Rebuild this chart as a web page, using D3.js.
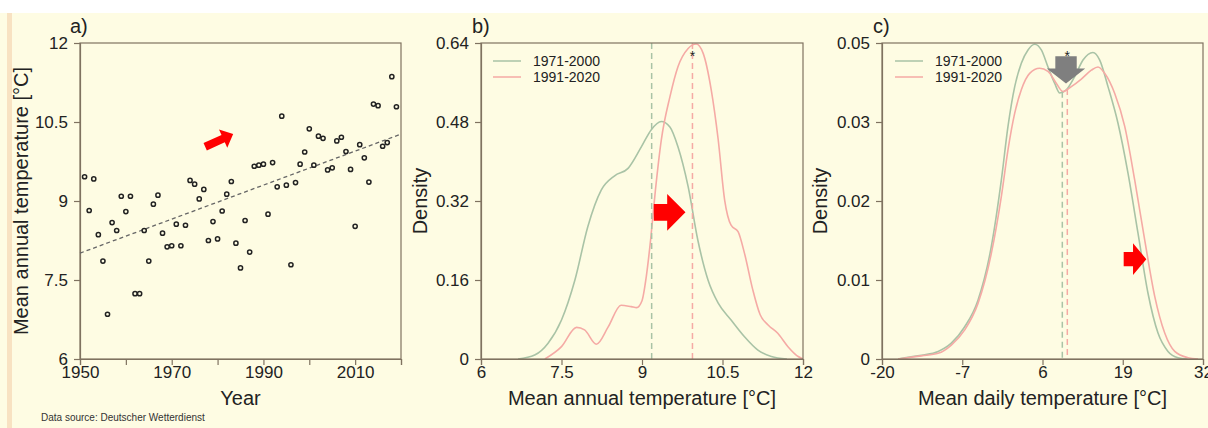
<!DOCTYPE html>
<html>
<head>
<meta charset="utf-8">
<script src="https://cdn.jsdelivr.net/npm/d3@7"></script>
<style>
  body { margin: 0; background: #fff; }
  svg { display: block; font-family: "Liberation Sans", Arial, sans-serif; }
  .axis path, .axis line { stroke: #7f7260; stroke-width: 1.2; }
  .axis text { fill: #222; font-size: 17px; }
</style>
</head>
<body>
<svg width="1208" height="428"></svg>
<script>
// ---- data ----
var years = [1951,1952,1953,1954,1955,1956,1957,1958,1959,1960,1961,1962,1963,1964,1965,1966,1967,1968,1969,1970,
  1971,1972,1973,1974,1975,1976,1977,1978,1979,1980,1981,1982,1983,1984,1985,1986,1987,1988,1989,1990,
  1991,1992,1993,1994,1995,1996,1997,1998,1999,2000,2001,2002,2003,2004,2005,2006,2007,2008,2009,2010,
  2011,2012,2013,2014,2015,2016,2017,2018,2019];
var annualTemps = [9.46,8.82,9.42,8.36,7.86,6.85,8.59,8.44,9.09,8.80,9.09,7.24,7.24,8.44,7.86,8.94,9.11,8.39,8.13,8.15,
  8.56,8.15,8.54,9.39,9.32,9.04,9.22,8.25,8.61,8.28,8.81,9.13,9.37,8.20,7.73,8.63,8.03,9.66,9.68,9.70,
  8.75,9.73,9.27,10.61,9.30,7.79,9.35,9.70,9.93,10.37,9.68,10.23,10.19,9.59,9.63,10.14,10.21,9.94,9.60,8.52,
  10.07,9.82,9.36,10.84,10.81,10.04,10.11,11.36,10.79];
var trendYears = [1950, 2020];
var trendTemps = [8.01, 10.27];

var seriesNames = ["1971-2000", "1991-2020"];

// density of mean annual temperature, [temp, density]
var annualDens7100 = [[6.69,0],[7.0,0.008],[7.25,0.032],[7.5,0.079],[7.75,0.16],[7.99,0.268],[8.24,0.342],
  [8.49,0.371],[8.74,0.386],[8.99,0.43],[9.17,0.464],[9.36,0.481],[9.52,0.47],[9.67,0.43],[9.86,0.349],
  [10.04,0.241],[10.23,0.16],[10.42,0.113],[10.66,0.079],[10.91,0.045],[11.16,0.018],[11.41,0.005],[11.7,0]];
var annualDens9120 = [[7.19,0],[7.5,0.025],[7.78,0.064],[7.93,0.059],[8.15,0.03],[8.37,0.065],[8.61,0.109],
  [8.8,0.106],[8.9,0.104],[9.0,0.118],[9.08,0.167],[9.16,0.241],[9.25,0.342],[9.36,0.444],[9.52,0.531],
  [9.67,0.592],[9.86,0.629],[10.01,0.638],[10.14,0.619],[10.29,0.545],[10.42,0.444],[10.54,0.322],
  [10.66,0.271],[10.79,0.258],[10.91,0.214],[11.06,0.142],[11.2,0.09],[11.35,0.069],[11.53,0.052],
  [11.72,0.025],[11.91,0.005],[12.0,0]];
var annualMeans = [9.18, 9.94];

// density of mean daily temperature, [temp, density]
var dailyDens7100 = [[-17.4,0],[-16.3,0.0002],[-13.6,0.0006],[-10.9,0.0012],[-8.77,0.0025],[-6.6,0.0051],
  [-4.45,0.0093],[-2.29,0.0178],[-0.67,0.0283],[0.41,0.0368],[1.5,0.0431],[2.57,0.0468],[3.65,0.0489],
  [4.74,0.0498],[5.81,0.0489],[6.89,0.0462],[7.98,0.0436],[8.79,0.0421],[9.86,0.0426],[11.22,0.0447],
  [12.56,0.0473],[14.18,0.0485],[15.27,0.0473],[16.61,0.0431],[18.23,0.0373],[19.85,0.0294],[21.47,0.0199],
  [23.09,0.0104],[24.71,0.0041],[26.33,0.0012],[27.95,0.0002],[29.5,0]];
var dailyDens9120 = [[-17.4,0],[-13.6,0.0005],[-10.9,0.0009],[-8.77,0.0022],[-6.6,0.0046],[-4.45,0.0088],
  [-2.29,0.0167],[-0.67,0.0257],[0.41,0.0331],[1.5,0.0389],[2.57,0.0426],[3.92,0.0452],[5.54,0.046],
  [6.89,0.0455],[8.25,0.0436],[9.32,0.0423],[10.67,0.0431],[12.29,0.0443],[13.91,0.0457],[14.99,0.0462],
  [16.07,0.0452],[17.7,0.042],[19.32,0.0368],[20.94,0.0283],[22.56,0.0188],[24.18,0.0099],[25.8,0.0041],
  [27.42,0.0012],[29.57,0.0002],[31.2,0]];
var dailyMeans = [9.21, 10.02];

// axis ticks
var yearTicks = [1950,1960,1970,1980,1990,2000,2010,2020];
var yearTickLabels = ["1950","","1970","","1990","","2010",""];
var annualTicks = [6,7.5,9,10.5,12];
var annualTickLabels = ["6","7.5","9","10.5","12"];
var annualDensTicks = [0,0.16,0.32,0.48,0.64];
var annualDensTickLabels = ["0","0.16","0.32","0.48","0.64"];
var dailyTicks = [-20,-7,6,19,32];
var dailyTickLabels = ["-20","-7","6","19","32"];
var dailyDensTicks = [0,0.0125,0.025,0.0375,0.05];
var dailyDensTickLabels = ["0","0.01","0.02","0.03","0.05"];

(function() {
  var svg = d3.select("svg");
  var plotTop = 43, plotBottom = 359;
  var axisColor = "#7f7260";
  var colors = ["#a9c3a6", "#f5aaa5"];

  svg.append("rect").attr("x", 0).attr("y", 13).attr("width", 1208).attr("height", 415).attr("fill", "#fefce3");
  svg.append("rect").attr("x", 7).attr("y", 13).attr("width", 5).attr("height", 415).attr("fill", "#f8e2c2");

  function makePanel(left, right, xDomain, yDomain) {
    return {
      g: svg.append("g"),
      x: d3.scaleLinear().domain(xDomain).range([left, right]),
      y: d3.scaleLinear().domain(yDomain).range([plotBottom, plotTop]),
      left: left, right: right
    };
  }

  function drawAxes(p, xTicks, xLabels, yTicks, yLabels) {
    p.g.append("rect")
      .attr("x", p.left).attr("y", plotTop)
      .attr("width", p.right - p.left).attr("height", plotBottom - plotTop)
      .attr("fill", "none").attr("stroke", axisColor).attr("stroke-width", 1.2);
    p.g.append("g").attr("class", "axis")
      .attr("transform", `translate(0, ${plotBottom})`)
      .call(d3.axisBottom(p.x).tickValues(xTicks).tickFormat((d, i) => xLabels[i])
        .tickSizeOuter(0).tickSize(6).tickPadding(1));
    p.g.append("g").attr("class", "axis")
      .attr("transform", `translate(${p.left}, 0)`)
      .call(d3.axisLeft(p.y).tickValues(yTicks).tickFormat((d, i) => yLabels[i])
        .tickSizeOuter(0).tickSize(6).tickPadding(6));
    p.g.selectAll(".axis text").attr("font-family", null);
  }

  function blockArrow(g, x0, y0, x1, y1, shaftW, headW, headL, color) {
    var dx = x1 - x0, dy = y1 - y0, len = Math.hypot(dx, dy);
    var ux = dx / len, uy = dy / len, nx = -uy, ny = ux;
    var bx = x1 - ux * headL, by = y1 - uy * headL;
    var pts = [
      [x0 + nx * shaftW, y0 + ny * shaftW],
      [bx + nx * shaftW, by + ny * shaftW],
      [bx + nx * headW, by + ny * headW],
      [x1, y1],
      [bx - nx * headW, by - ny * headW],
      [bx - nx * shaftW, by - ny * shaftW],
      [x0 - nx * shaftW, y0 - ny * shaftW]
    ];
    g.append("polygon").attr("points", pts.map(q => q.join(",")).join(" ")).attr("fill", color);
  }

  function panelLabel(x, txt) {
    svg.append("text").attr("x", x).attr("y", 33).attr("font-size", 20).attr("fill", "#222").text(txt);
  }

  function xTitle(p, txt) {
    svg.append("text").attr("x", (p.left + p.right) / 2).attr("y", 405)
      .attr("text-anchor", "middle").attr("font-size", 20).attr("fill", "#222").text(txt);
  }

  function yTitle(x, txt) {
    svg.append("text")
      .attr("transform", `translate(${x}, ${(plotTop + plotBottom) / 2}) rotate(-90)`)
      .attr("text-anchor", "middle").attr("font-size", 20).attr("fill", "#222").text(txt);
  }

  function legend(p, x0) {
    var lg = p.g.append("g").attr("font-size", 14).attr("fill", "#222");
    seriesNames.forEach(function(name, i) {
      var yy = 61 + i * 16;
      lg.append("line").attr("x1", x0).attr("x2", x0 + 28).attr("y1", yy).attr("y2", yy)
        .attr("stroke", colors[i]).attr("stroke-width", 1.5);
      lg.append("text").attr("x", x0 + 40).attr("y", yy).attr("dy", "0.35em").text(name);
    });
  }

  function densAt(series, t) {
    var i = d3.bisector(d => d[0]).left(series, t);
    var a = series[i - 1], b = series[i];
    return a[1] + (b[1] - a[1]) * (t - a[0]) / (b[0] - a[0]);
  }

  // ---- panel a ----
  var pa = makePanel(80, 401, [1950, 2020], [6, 12]);
  drawAxes(pa, yearTicks, yearTickLabels, annualTicks, annualTickLabels);
  pa.g.append("line")
    .attr("x1", pa.x(trendYears[0])).attr("y1", pa.y(trendTemps[0]))
    .attr("x2", pa.x(trendYears[1])).attr("y2", pa.y(trendTemps[1]))
    .attr("stroke", "#666").attr("stroke-width", 1.3).attr("stroke-dasharray", "4,3");
  pa.g.append("g").selectAll("circle")
    .data(years)
    .enter().append("circle")
      .attr("cx", d => pa.x(d))
      .attr("cy", (d, i) => pa.y(annualTemps[i]))
      .attr("r", 2.1)
      .attr("fill", "none")
      .attr("stroke", "#222")
      .attr("stroke-width", 1.5);
  blockArrow(pa.g, pa.x(1977.3), pa.y(10.03), pa.x(1983.4), pa.y(10.27), 4, 10, 11, "#f00");
  panelLabel(70, "a)");
  xTitle(pa, "Year");
  yTitle(28, "Mean annual temperature [°C]");
  svg.append("text").attr("x", 41).attr("y", 421).attr("font-size", 10).attr("fill", "#333")
    .text("Data source: Deutscher Wetterdienst");

  // ---- panel b ----
  var pb = makePanel(481, 803, [6, 12], [0, 0.64]);
  var lineB = d3.line().x(d => pb.x(d[0])).y(d => pb.y(d[1])).curve(d3.curveMonotoneX);
  [annualDens7100, annualDens9120].forEach(function(s, i) {
    pb.g.append("path").attr("d", lineB(s)).attr("fill", "none")
      .attr("stroke", colors[i]).attr("stroke-width", 1.6);
  });
  annualMeans.forEach(function(m, i) {
    pb.g.append("line").attr("x1", pb.x(m)).attr("x2", pb.x(m))
      .attr("y1", plotTop).attr("y2", plotBottom)
      .attr("stroke", colors[i]).attr("stroke-width", 1.5).attr("stroke-dasharray", "6,4");
  });
  blockArrow(pb.g, pb.x(9.22), pb.y(0.297), pb.x(9.81), pb.y(0.297), 8.3, 18.3, 18.3, "#f00");
  pb.g.append("text").attr("x", pb.x(annualMeans[1])).attr("y", plotTop + 18)
    .attr("text-anchor", "middle").attr("font-size", 14).attr("fill", "#222").text("*");
  drawAxes(pb, annualTicks, annualTickLabels, annualDensTicks, annualDensTickLabels);
  legend(pb, 493);
  panelLabel(472, "b)");
  xTitle(pb, "Mean annual temperature [°C]");
  yTitle(427, "Density");

  // ---- panel c ----
  var pc = makePanel(882, 1203, [-20, 32], [0, 0.05]);
  var lineC = d3.line().x(d => pc.x(d[0])).y(d => pc.y(d[1])).curve(d3.curveMonotoneX);
  var dailySeries = [dailyDens7100, dailyDens9120];
  dailySeries.forEach(function(s, i) {
    pc.g.append("path").attr("d", lineC(s)).attr("fill", "none")
      .attr("stroke", colors[i]).attr("stroke-width", 1.6);
  });
  dailyMeans.forEach(function(m, i) {
    pc.g.append("line").attr("x1", pc.x(m)).attr("x2", pc.x(m))
      .attr("y1", pc.y(densAt(dailySeries[i], m))).attr("y2", plotBottom)
      .attr("stroke", colors[i]).attr("stroke-width", 1.5).attr("stroke-dasharray", "6,4");
  });
  blockArrow(pc.g, pc.x(19.15), pc.y(0.0158), pc.x(22.82), pc.y(0.0158), 7.2, 15.8, 13.3, "#f00");
  blockArrow(pc.g, pc.x(9.81), pc.y(0.0479), pc.x(9.81), pc.y(0.0436), 10.7, 19.2, 15, "#7f7f7f");
  pc.g.append("text").attr("x", pc.x(dailyMeans[1])).attr("y", plotTop + 18)
    .attr("text-anchor", "middle").attr("font-size", 14).attr("fill", "#222").text("*");
  drawAxes(pc, dailyTicks, dailyTickLabels, dailyDensTicks, dailyDensTickLabels);
  legend(pc, 895);
  panelLabel(873, "c)");
  xTitle(pc, "Mean daily temperature [°C]");
  yTitle(827, "Density");
})();
</script>
</body>
</html>
